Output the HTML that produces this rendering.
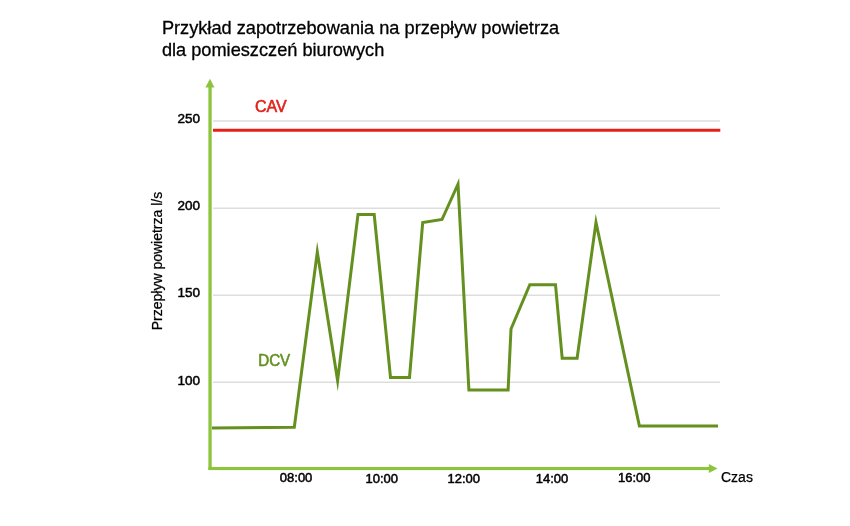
<!DOCTYPE html>
<html><head><meta charset="utf-8">
<style>
html,body{margin:0;padding:0;background:#fff;}
body{width:850px;height:526px;overflow:hidden;position:relative;font-family:"Liberation Sans",sans-serif;}
svg{position:absolute;left:0;top:0;will-change:transform;}
</style></head><body>
<svg width="850" height="526" viewBox="0 0 850 526" xmlns="http://www.w3.org/2000/svg">

<!-- title -->
<text x="161.9" y="33.6" font-family="Liberation Sans" font-size="18.2" fill="#000" stroke="#000" stroke-width="0.3" stroke-linejoin="round">Przykład zapotrzebowania na przepływ powietrza</text>
<text x="161.9" y="55.6" font-family="Liberation Sans" font-size="18.2" fill="#000" stroke="#000" stroke-width="0.3" stroke-linejoin="round">dla pomieszczeń biurowych</text>
<!-- gridlines -->
<g stroke="#dedede" stroke-width="1.5">
<line x1="213" y1="121" x2="720" y2="121"/>
<line x1="213" y1="208.25" x2="720" y2="208.25"/>
<line x1="213" y1="295.3" x2="720" y2="295.3"/>
<line x1="213" y1="382.3" x2="720" y2="382.3"/>
</g>
<!-- CAV -->
<line x1="213" y1="130.3" x2="720.3" y2="130.3" stroke="#e32119" stroke-width="2.9"/>
<text x="255" y="111.9" font-family="Liberation Sans" font-size="16" fill="#e32119" stroke="#e32119" stroke-width="0.6" stroke-linejoin="round">CAV</text>
<!-- axes -->
<g fill="#8cc43c">
<rect x="208.4" y="86" width="3.3" height="384"/>
<polygon points="209.95,78.8 214.5,87.5 205.4,87.5"/>
<rect x="208.4" y="467" width="501" height="3.1"/>
<polygon points="717.5,468.5 708.8,464.1 708.8,473"/>
</g>
<!-- DCV -->
<polyline fill="none" stroke="#64901f" stroke-width="3" stroke-miterlimit="30" stroke-linejoin="miter"
points="212,428.1 294.3,427.3 317.3,252 337.6,380.6 358,214.5 374.2,214.5 390.5,377.4 409.5,377.4 422.7,222.5 442,219.5 458,184.2 468.9,390 508.1,390 511,329 529.8,284.7 555.5,284.7 562.2,358.3 577.1,358.3 596,222.4 639.4,426 718,426"/>
<text x="258.2" y="365.9" textLength="32" lengthAdjust="spacingAndGlyphs" font-family="Liberation Sans" font-size="16" fill="#64901f" stroke="#64901f" stroke-width="0.6" stroke-linejoin="round">DCV</text>
<!-- y labels -->
<g font-family="Liberation Sans" font-size="13.5" fill="#000" stroke="#000" stroke-width="0.5" stroke-linejoin="round" text-anchor="end">
<text x="200" y="123.2">250</text>
<text x="200" y="210.2">200</text>
<text x="200" y="296.9">150</text>
<text x="200" y="384.8">100</text>
</g>
<!-- x labels -->
<g font-family="Liberation Sans" font-size="13" fill="#000" stroke="#000" stroke-width="0.5" stroke-linejoin="round" text-anchor="middle">
<text x="296.1" y="482.4">08:00</text>
<text x="381.75" y="483.4">10:00</text>
<text x="463.8" y="483.4">12:00</text>
<text x="552" y="483.4">14:00</text>
<text x="634.2" y="482.4">16:00</text>
</g>
<text x="721" y="481.8" font-family="Liberation Sans" font-size="14" fill="#000" stroke="#000" stroke-width="0.25" stroke-linejoin="round">Czas</text>
<text transform="translate(161.7,330.3) rotate(-90)" font-family="Liberation Sans" font-size="14" fill="#000" stroke="#000" stroke-width="0.25" stroke-linejoin="round">Przepływ powietrza l/s</text>
</svg>
</body></html>
